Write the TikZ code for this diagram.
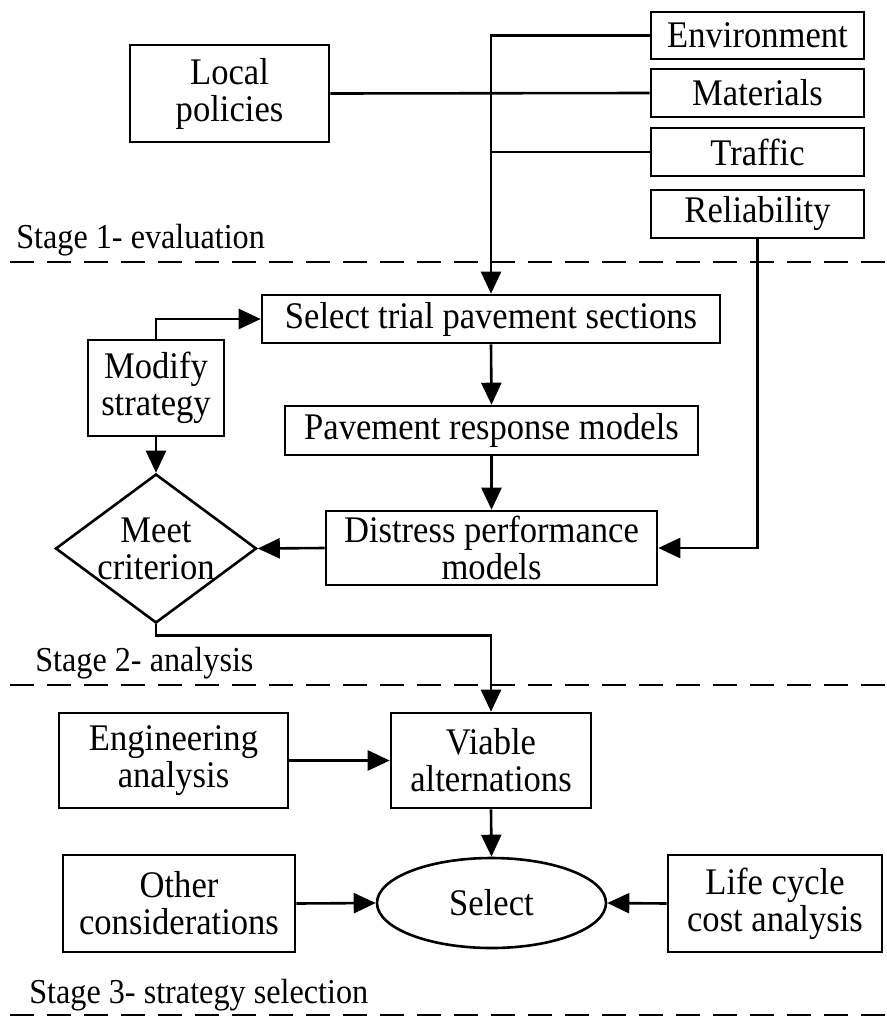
\documentclass[tikz,border=0pt]{standalone}
\usepackage{fontspec}
\setmainfont[FakeStretch=0.92]{Liberation Serif}
\usetikzlibrary{arrows.meta,shapes.geometric}

\begin{document}
\begin{tikzpicture}[x=0.5pt,y=-0.5pt,
  font=\fontsize{18.8}{18.5}\selectfont,
  line width=1.3pt,
  box/.style={draw, rectangle, align=center, inner sep=1pt},
  diam/.style={draw, diamond, inner sep=0pt},
  oval/.style={draw, ellipse, inner sep=0pt},
  arr/.style={-{Triangle[length=11pt,width=10pt]}},
  stageline/.style={dash pattern=on 12pt off 6.5pt, line width=1.3pt},
  stagetext/.style={anchor=west, inner sep=0pt, font=\fontsize{17.5}{18}\selectfont}]
  \useasboundingbox (0,0) rectangle (887,1017);

  % stage 1 inputs
  \node[box, minimum width=106.5pt, minimum height=23.5pt] (env) at (757.5,35.5) {Environment};
  \node[box, minimum width=106.5pt, minimum height=24pt] (mat) at (757.5,93) {Materials};
  \node[box, minimum width=106.5pt, minimum height=24pt] (traf) at (757.5,152) {Traffic};
  \node[box, minimum width=106.5pt, minimum height=24pt] (rel) at (757.5,214) {Reliability};
  \node[box, minimum width=99.5pt, minimum height=48.5pt] (local) at (229.5,93.5) {Local\\policies};

  % stage 2 analysis
  \node[box, minimum width=229pt, minimum height=24pt] (sel) at (491,319) {Select trial pavement sections};
  \node[box, minimum width=206.5pt, minimum height=24.5pt] (resp) at (491.5,430.5) {Pavement response models};
  \node[box, minimum width=165.5pt, minimum height=37pt] (dist) at (491.5,548) {Distress performance\\models};
  \node[box, minimum width=68pt, minimum height=48pt] (modify) at (156,388) {Modify\\strategy};
  \node[diam, minimum width=100.5pt, minimum height=74.5pt,
        label={[align=center, name=meettext]center:Meet\\criterion}] (meet) at (156,548.5) {};

  % stage 3 selection
  \node[box, minimum width=100pt, minimum height=47.5pt] (viable) at (491,760.5) {Viable\\alternations};
  \node[box, minimum width=114.5pt, minimum height=47.5pt] (eng) at (173.5,760.5) {Engineering\\analysis};
  \node[oval, minimum width=114.5pt, minimum height=45pt] (choose) at (491.5,903) {Select};
  \node[box, minimum width=116pt, minimum height=48.5pt] (other) at (179,903.5) {Other\\considerations};
  \node[box, minimum width=107pt, minimum height=48.5pt] (life) at (775,903.5) {Life cycle\\cost analysis};

  % connectors
  \draw[arr] (env.west) -| (sel.north);
  \draw (local.east) -- (mat.west);
  \draw (traf.west) -- (traf.west -| sel.north);
  \draw[arr] (rel.south) |- (dist.east);
  \draw[arr] (sel.south) -- (resp.north);
  \draw[arr] (resp.south) -- (dist.north);
  \draw[arr] (dist.west) -- (meet.east);
  \draw[arr] (modify.north) |- (sel.west);
  \draw[arr] (modify.south) -- (meet.north);
  \draw[arr] (meet.south) -- ++(0,11) -| (viable.north);
  \draw[arr] (eng.east) -- (viable.west);
  \draw[arr] (viable.south) -- (choose.north);
  \draw[arr] (other.east) -- (choose.west);
  \draw[arr] (life.west) -- (choose.east);

  % stage borders
  \foreach \y in {262,685,1015}
    \draw[stageline] (10,\y) -- (887,\y);
  \node[stagetext] (stage1) at (15,240) {Stage 1- evaluation};
  \node[stagetext] (stage2) at (34,663) {Stage 2- analysis};
  \node[stagetext] (stage3) at (28,995) {Stage 3- strategy selection};
\end{tikzpicture}
\end{document}
